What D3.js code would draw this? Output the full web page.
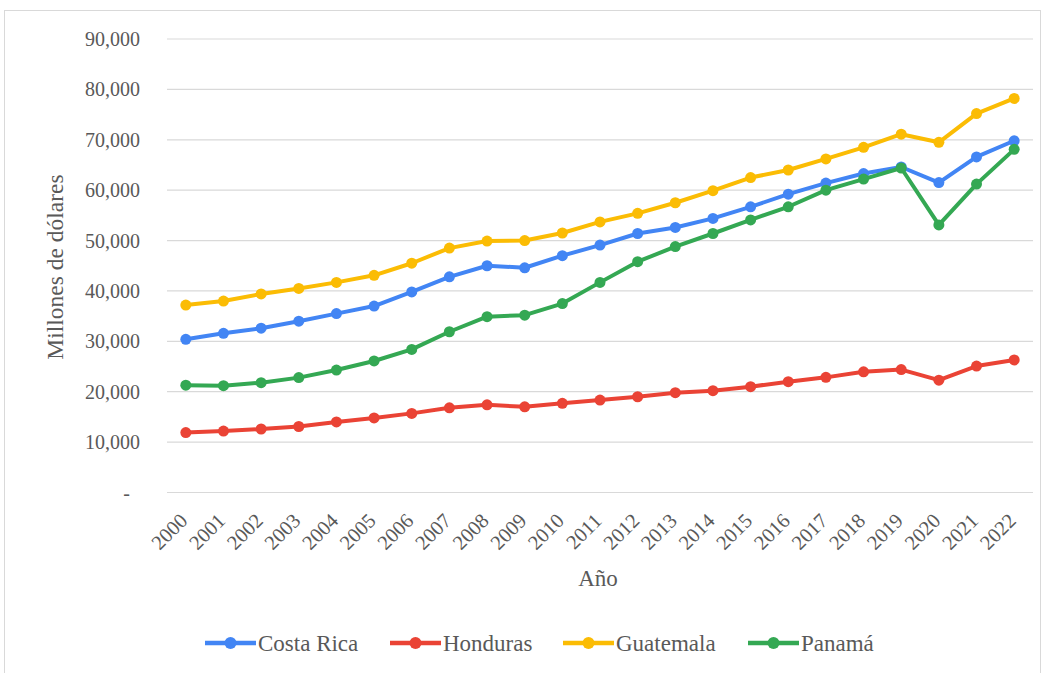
<!DOCTYPE html>
<html><head><meta charset="utf-8">
<script src="https://cdn.jsdelivr.net/npm/d3@7"></script>
<style>body{margin:0;background:#fff}svg{display:block}</style>
</head><body><svg id="c" width="1046" height="673"></svg>
<script>
const years = ["2000","2001","2002","2003","2004","2005","2006","2007","2008","2009","2010","2011","2012","2013","2014","2015","2016","2017","2018","2019","2020","2021","2022"];
const costaRica = [30400,31600,32600,34000,35500,37000,39800,42800,45000,44600,47000,49100,51400,52600,54400,56700,59200,61400,63300,64600,61500,66600,69800];
const honduras = [11900,12200,12600,13100,14000,14800,15700,16800,17400,17000,17700,18350,19000,19800,20200,21000,22000,22850,23950,24400,22300,25100,26300];
const guatemala = [37200,38000,39400,40500,41700,43100,45500,48500,49900,50000,51500,53700,55400,57500,59900,62500,64000,66200,68500,71100,69500,75200,78200];
const panama = [21300,21200,21800,22800,24300,26100,28400,31900,34900,35200,37500,41700,45800,48800,51400,54100,56700,60000,62200,64400,53100,61200,68100];
const yTicks = [0,10000,20000,30000,40000,50000,60000,70000,80000,90000];
const seriesNames = ["Costa Rica","Honduras","Guatemala","Panamá"];
const seriesColors = ["#4285F4","#EA4335","#FBBC04","#34A853"];
const seriesData = [costaRica, honduras, guatemala, panama];

const svg = d3.select("#c");
const font = "'Liberation Serif','Times New Roman',serif";
const txt = "#595959";
svg.append("rect").attr("x",4.5).attr("y",10.5).attr("width",1036).attr("height",680)
  .attr("fill","none").attr("stroke","#d9d9d9").attr("stroke-width",1);

const x = d3.scaleBand().domain(years).range([167,1033]);
const y = d3.scaleLinear().domain([0,90000]).range([492.5,39]);

// grid
svg.append("g").selectAll("line").data(yTicks).join("line")
  .attr("x1",167).attr("x2",1033).attr("y1",d=>y(d)).attr("y2",d=>y(d))
  .attr("stroke","#d9d9d9").attr("stroke-width",1.2);

// y labels
const fmt = d3.format(",");
svg.append("g").selectAll("text").data(yTicks).join("text")
  .attr("x",d=>d===0?130:140).attr("y",d=>y(d)).attr("dy","0.35em")
  .attr("text-anchor","end").attr("font-family",font).attr("font-size",20).attr("fill",txt)
  .text(d=>d===0?"-":fmt(d));

// x labels
svg.append("g").selectAll("text").data(years).join("text")
  .attr("transform",d=>`translate(${x(d)+x.bandwidth()/2+3},${522}) rotate(-45)`)
  .attr("text-anchor","end").attr("font-family",font).attr("font-size",20.5).attr("fill",txt)
  .text(d=>d);

// axis titles
svg.append("text").attr("transform","translate(63,267) rotate(-90)").attr("text-anchor","middle")
  .attr("font-family",font).attr("font-size",23.5).attr("fill",txt).text("Millones de dólares");
svg.append("text").attr("x",598).attr("y",586).attr("text-anchor","middle")
  .attr("font-family",font).attr("font-size",23).attr("fill",txt).text("Año");

const line = d3.line().x((d,i)=>x(years[i])+x.bandwidth()/2).y(d=>y(d));
seriesData.forEach((s,k)=>{
  const g = svg.append("g");
  g.append("path").attr("d",line(s)).attr("fill","none").attr("stroke",seriesColors[k])
    .attr("stroke-width",4).attr("stroke-linejoin","round");
  g.selectAll("circle").data(s).join("circle")
    .attr("cx",(d,i)=>x(years[i])+x.bandwidth()/2).attr("cy",d=>y(d)).attr("r",5.5)
    .attr("fill",seriesColors[k]);
});

// legend
const legX = [205,390,563,748];
seriesNames.forEach((n,k)=>{
  const g = svg.append("g").attr("transform",`translate(${legX[k]},643)`);
  g.append("line").attr("x1",0).attr("x2",51).attr("stroke",seriesColors[k]).attr("stroke-width",4.5);
  g.append("circle").attr("cx",25.5).attr("r",6).attr("fill",seriesColors[k]);
  g.append("text").attr("x",53).attr("dy","0.35em").attr("font-family",font).attr("font-size",23)
    .attr("fill",txt).text(n);
});
</script></body></html>
